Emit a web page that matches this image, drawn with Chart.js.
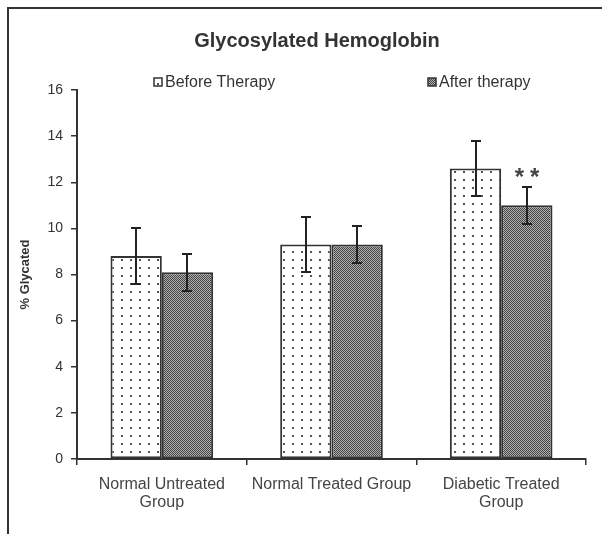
<!DOCTYPE html>
<html>
<head>
<meta charset="utf-8">
<script src="https://cdn.jsdelivr.net/npm/chart.js@4.4.1/dist/chart.umd.min.js"></script>
<style>
  html, body { margin: 0; padding: 0; background: #fff; }
  #wrap { width: 602px; height: 534px; position: relative; }
</style>
</head>
<body>
<div id="wrap"><canvas id="c" width="602" height="534"></canvas></div>
<script>
// ---- data ----
const categories = [['Normal Untreated', 'Group'], 'Normal Treated Group', ['Diabetic Treated', 'Group']];
const seriesNames = ['Before Therapy', 'After therapy'];
const beforeValues = [8.8, 9.3, 12.6];
const afterValues = [8.1, 9.3, 11.0];
const beforeErrors = [1.2, 1.2, 1.2];
const afterErrors = [0.8, 0.8, 0.8];
const afterMarks = ['', '', '**'];
const chartTitle = 'Glycosylated Hemoglobin';
const yTitle = '% Glycated';
const yMin = 0, yMax = 16, yStep = 2;

const FONT = "'Liberation Sans', Arial, sans-serif";
const INK = '#333';

// fill patterns: white with dots, and a fine grey checker
function dotPattern() {
  const c = document.createElement('canvas');
  c.width = 9; c.height = 8;
  const g = c.getContext('2d');
  g.fillStyle = '#fff'; g.fillRect(0, 0, 9, 8);
  g.fillStyle = '#555'; g.fillRect(4, 3, 2, 2);
  return g.createPattern(c, 'repeat');
}
function checkPattern() {
  const c = document.createElement('canvas');
  c.width = 2; c.height = 2;
  const g = c.getContext('2d');
  g.fillStyle = '#b0b0b0'; g.fillRect(0, 0, 2, 2);
  g.fillStyle = '#444'; g.fillRect(0, 0, 1, 1); g.fillRect(1, 1, 1, 1);
  return g.createPattern(c, 'repeat');
}
const fills = [dotPattern(), checkPattern()];

// frame, title, legend, error bars and significance marks
const decor = {
  id: 'decor',
  beforeDraw(chart) {
    const ctx = chart.ctx;
    ctx.save();
    ctx.strokeStyle = INK; ctx.lineWidth = 2;
    ctx.beginPath();
    ctx.moveTo(8, 534); ctx.lineTo(8, 8); ctx.lineTo(602, 8);
    ctx.stroke();
    ctx.restore();
  },
  afterDatasetsDraw(chart) {
    const ctx = chart.ctx;
    const ys = chart.scales.y;
    ctx.save();
    ctx.strokeStyle = '#222'; ctx.lineWidth = 2;
    chart.data.datasets.forEach((ds, di) => {
      const meta = chart.getDatasetMeta(di);
      meta.data.forEach((bar, i) => {
        const v = ds.data[i], e = ds.errors[i];
        const yt = Math.round(ys.getPixelForValue(v + e));
        const yb = Math.round(ys.getPixelForValue(v - e));
        const x = Math.round(bar.x);
        ctx.beginPath();
        ctx.moveTo(x, yt); ctx.lineTo(x, yb);
        ctx.moveTo(x - 5, yt); ctx.lineTo(x + 5, yt);
        ctx.moveTo(x - 5, yb); ctx.lineTo(x + 5, yb);
        ctx.stroke();
        if (ds.marks && ds.marks[i]) {
          ctx.fillStyle = '#444';
          ctx.font = 'bold 24px ' + FONT;
          ctx.textAlign = 'center';
          ctx.textBaseline = 'middle';
          ctx.letterSpacing = '6px';
          ctx.fillText(ds.marks[i], x + 3, yt - 9);
          ctx.letterSpacing = '0px';
        }
      });
    });
    ctx.restore();
  },
  afterDraw(chart) {
    const ctx = chart.ctx;
    ctx.save();
    ctx.fillStyle = INK;
    ctx.font = 'bold 20px ' + FONT;
    ctx.textAlign = 'center';
    ctx.textBaseline = 'alphabetic';
    ctx.fillText(chartTitle, 317, 47);

    // legend
    const items = [{ x: 154, name: seriesNames[0] }, { x: 428, name: seriesNames[1] }];
    ctx.font = '16px ' + FONT;
    ctx.textAlign = 'left';
    ctx.textBaseline = 'middle';
    items.forEach((it, k) => {
      ctx.fillStyle = fills[k];
      ctx.fillRect(it.x, 78, 8, 8);
      ctx.strokeStyle = INK; ctx.lineWidth = 1.5;
      ctx.strokeRect(it.x, 78, 8, 8);
      ctx.fillStyle = INK;
      ctx.fillText(it.name, it.x + 11, 83);
    });
    ctx.restore();
  }
};

new Chart(document.getElementById('c'), {
  type: 'bar',
  data: {
    labels: categories,
    datasets: [
      { label: seriesNames[0], data: beforeValues, errors: beforeErrors,
        backgroundColor: fills[0], borderColor: INK, borderWidth: 2, borderSkipped: false },
      { label: seriesNames[1], data: afterValues, errors: afterErrors, marks: afterMarks,
        backgroundColor: fills[1], borderColor: INK, borderWidth: 2, borderSkipped: false }
    ]
  },
  options: {
    responsive: false,
    animation: false,
    devicePixelRatio: 1,
    layout: { padding: { left: 0, right: 16, top: 90, bottom: 0 } },
    plugins: { legend: { display: false }, title: { display: false }, tooltip: { enabled: false } },
    datasets: { bar: { categoryPercentage: 0.605, barPercentage: 1 } },
    scales: {
      x: {
        grid: { display: true, drawOnChartArea: false, drawTicks: true, tickLength: 6, color: INK, lineWidth: 1.5, offset: true },
        border: { color: INK, width: 2 },
        ticks: { font: { family: FONT, size: 16, lineHeight: 1.15 }, color: '#444', padding: 10, maxRotation: 0, autoSkip: false },
        afterFit(s) { s.height = 75; }
      },
      y: {
        min: yMin, max: yMax,
        ticks: { stepSize: yStep, font: { family: FONT, size: 14 }, color: INK, padding: 8 },
        grid: { drawOnChartArea: false, tickLength: 6, color: INK, lineWidth: 1.5 },
        border: { color: INK, width: 2 },
        title: { display: true, text: yTitle, font: { family: FONT, size: 13, weight: 'bold' }, color: INK, padding: { top: 18, bottom: 0 } },
        afterFit(s) { s.width = 77; }
      }
    }
  },
  plugins: [decor]
});
</script>
</body>
</html>
